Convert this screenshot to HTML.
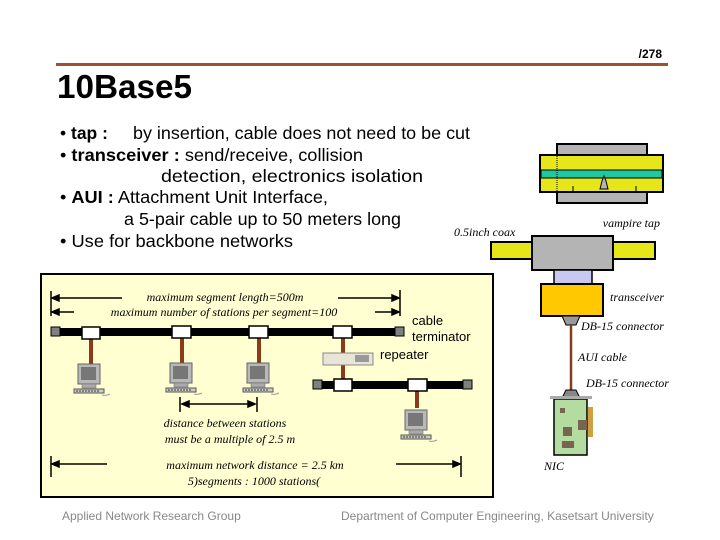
<!DOCTYPE html>
<html><head><meta charset="utf-8"><style>
html,body{margin:0;padding:0;background:#fff;}
svg{display:block;}
text{font-family:"Liberation Sans",sans-serif;}
.it{font-family:"Liberation Serif",serif;font-style:italic;font-size:12px;}
</style></head><body>
<svg width="720" height="540" viewBox="0 0 720 540" xmlns="http://www.w3.org/2000/svg">
<defs>
<g id="pc">
  <rect x="0" y="0" width="22" height="20" fill="#b8b8b8" stroke="#666" stroke-width="1"/>
  <rect x="3" y="3" width="15" height="13" fill="#777"/>
  <rect x="4" y="20" width="14" height="4" fill="#aaa" stroke="#666" stroke-width="0.5"/>
  <rect x="-4" y="25" width="30" height="4" fill="#ccc" stroke="#555" stroke-width="1"/>
  <line x1="-2" y1="27" x2="22" y2="27" stroke="#333" stroke-width="1" stroke-dasharray="2,1"/>
  <path d="M24 31 q4 1 8 -1" stroke="#999" fill="none"/>
</g>
</defs>
<!-- header -->
<text x="662" y="58" font-size="12" font-weight="bold" text-anchor="end">/278</text>
<rect x="56" y="63" width="612" height="3" fill="#a0502d"/>
<text x="57" y="98" font-size="33" font-weight="bold" textLength="135" lengthAdjust="spacingAndGlyphs">10Base5</text>
<g font-size="17.5">
<text x="60" y="139">• <tspan font-weight="bold">tap :</tspan></text>
<text x="133" y="139" textLength="337" lengthAdjust="spacingAndGlyphs">by insertion, cable does not need to be cut</text>
<text x="60" y="161" textLength="303" lengthAdjust="spacingAndGlyphs">• <tspan font-weight="bold">transceiver :</tspan> send/receive, collision</text>
<text x="161" y="182" textLength="262" lengthAdjust="spacingAndGlyphs">detection, electronics isolation</text>
<text x="60" y="203" textLength="268" lengthAdjust="spacingAndGlyphs">• <tspan font-weight="bold">AUI :</tspan> Attachment Unit Interface,</text>
<text x="124" y="225" textLength="277" lengthAdjust="spacingAndGlyphs">a 5-pair cable up to 50 meters long</text>
<text x="60" y="247" textLength="233" lengthAdjust="spacingAndGlyphs">• Use for backbone networks</text>
</g>
<!-- vampire tap -->
<rect x="557" y="144" width="90" height="59" fill="#b4b4b4" stroke="#000" stroke-width="2"/>
<rect x="540" y="155" width="123" height="37" fill="#e6e619" stroke="#000" stroke-width="2"/>
<rect x="541" y="170" width="121" height="8" fill="#1ec8a0" stroke="#000" stroke-width="1"/>
<line x1="557" y1="156" x2="557" y2="191" stroke="#000" stroke-dasharray="1,1"/>
<path d="M600 189 L602 181 L604 176 L606 181 L608 189 Z" fill="#b4b4b4" stroke="#000"/>
<line x1="573" y1="186" x2="573" y2="191" stroke="#000"/>
<line x1="636" y1="186" x2="636" y2="191" stroke="#000"/>
<text x="660" y="227" class="it" text-anchor="end">vampire tap</text>
<text x="454" y="236" class="it">0.5inch coax</text>
<rect x="491" y="242" width="164" height="17" fill="#e6e619" stroke="#000" stroke-width="2"/>
<rect x="532" y="236" width="81" height="34" fill="#b4b4b4" stroke="#000" stroke-width="2"/>
<rect x="554" y="270" width="38" height="14" fill="#c8c8f0" stroke="#000" stroke-width="1.5"/>
<rect x="541" y="284" width="62" height="32" fill="#ffc800" stroke="#000" stroke-width="2"/>
<text x="610" y="301" class="it">transceiver</text>
<path d="M562 316 L580 316 L576 325 L566 325 Z" fill="#999" stroke="#000"/>
<text x="581" y="330" class="it">DB-15 connector</text>
<line x1="571" y1="325" x2="571" y2="390" stroke="#8b3a1a" stroke-width="2.5"/>
<text x="578" y="361" class="it">AUI cable</text>
<path d="M566 390 L576 390 L580 398 L562 398 Z" fill="#888" stroke="#000"/>
<text x="586" y="387" class="it">DB-15 connector</text>
<rect x="554" y="399" width="33" height="56" fill="#b4dca0" stroke="#000" stroke-width="1.5"/>
<rect x="550" y="396" width="42" height="3" fill="#aaa"/>
<rect x="588" y="407" width="5" height="30" fill="#d0a040"/>
<rect x="578" y="420" width="9" height="10" fill="#786450"/>
<rect x="563" y="427" width="9" height="9" fill="#786450"/>
<rect x="562" y="441" width="12" height="7" fill="#786450"/>
<rect x="560" y="408" width="5" height="5" fill="#786450"/>
<text x="544" y="470" class="it">NIC</text>
<!-- panel -->
<rect x="41" y="274" width="452" height="223" fill="#ffffd2" stroke="#000" stroke-width="2"/>
<g stroke="#000" stroke-width="1.5" fill="#000">
<line x1="51" y1="291" x2="51" y2="316"/><line x1="400" y1="290" x2="400" y2="316"/>
<line x1="54" y1="298" x2="122" y2="298"/><path d="M52 298 l7 -3 v6z"/>
<line x1="338" y1="298" x2="397" y2="298"/><path d="M399 298 l-7 -3 v6z"/>
<line x1="54" y1="312" x2="74" y2="312"/><path d="M52 312 l7 -3 v6z"/>
<line x1="375" y1="312" x2="397" y2="312"/><path d="M399 312 l-7 -3 v6z"/>
<line x1="180" y1="397" x2="180" y2="412"/><line x1="257" y1="397" x2="257" y2="412"/>
<line x1="182" y1="404" x2="255" y2="404"/><path d="M182 404 l7 -3 v6z"/><path d="M255 404 l-7 -3 v6z"/>
<line x1="51" y1="456" x2="51" y2="477"/><line x1="461" y1="456" x2="461" y2="477"/>
<line x1="54" y1="464" x2="107" y2="464"/><path d="M52 464 l7 -3 v6z"/>
<line x1="396" y1="464" x2="458" y2="464"/><path d="M460 464 l-7 -3 v6z"/>
</g>
<text x="225" y="301" class="it" text-anchor="middle">maximum segment length=500m</text>
<text x="224" y="316" class="it" text-anchor="middle">maximum number of stations per segment=100</text>
<text x="225" y="427" class="it" text-anchor="middle">distance between stations</text>
<text x="230" y="443" class="it" text-anchor="middle">must be a multiple of 2.5 m</text>
<text x="255" y="469" class="it" text-anchor="middle">maximum network  distance = 2.5 km</text>
<text x="254" y="485" class="it" text-anchor="middle">5)segments : 1000 stations(</text>
<text x="412" y="325" font-size="13">cable</text>
<text x="412" y="341" font-size="13">terminator</text>
<text x="380" y="359" font-size="13">repeater</text>
<!-- coax 1 -->
<rect x="52" y="328" width="348" height="8" fill="#000"/>
<rect x="51" y="327" width="9" height="9" fill="#808080" stroke="#000"/>
<rect x="395" y="327" width="9" height="9" fill="#808080" stroke="#000"/>
<g fill="#8b3a1a">
<rect x="89" y="338" width="4" height="26"/><rect x="180" y="338" width="4" height="26"/>
<rect x="257" y="338" width="4" height="26"/><rect x="341" y="338" width="4" height="46"/>
<rect x="415" y="390" width="4" height="18"/>
</g>
<g fill="#fff" stroke="#000" stroke-width="1.5">
<rect x="82" y="327" width="18" height="12"/><rect x="172" y="326" width="19" height="12"/>
<rect x="249" y="326" width="19" height="12"/><rect x="333" y="326" width="19" height="12"/>
</g>
<rect x="323" y="353" width="50" height="12" fill="#e8e4d8" stroke="#888"/>
<rect x="355" y="355" width="14" height="7" fill="#999"/>
<!-- coax 2 -->
<rect x="318" y="381" width="152" height="8" fill="#000"/>
<rect x="313" y="380" width="9" height="9" fill="#808080" stroke="#000"/>
<rect x="463" y="380" width="9" height="9" fill="#808080" stroke="#000"/>
<g fill="#fff" stroke="#000" stroke-width="1.5">
<rect x="334" y="379" width="18" height="12"/><rect x="408" y="379" width="19" height="12"/>
</g>
<use href="#pc" x="78" y="364"/>
<use href="#pc" x="170" y="363"/>
<use href="#pc" x="247" y="363"/>
<use href="#pc" x="405" y="410"/>
<!-- footer -->
<text x="62" y="520" font-size="12" fill="#888">Applied Network Research Group</text>
<text x="341" y="520" font-size="12" fill="#888">Department of Computer Engineering, Kasetsart University</text>
</svg>
</body></html>
